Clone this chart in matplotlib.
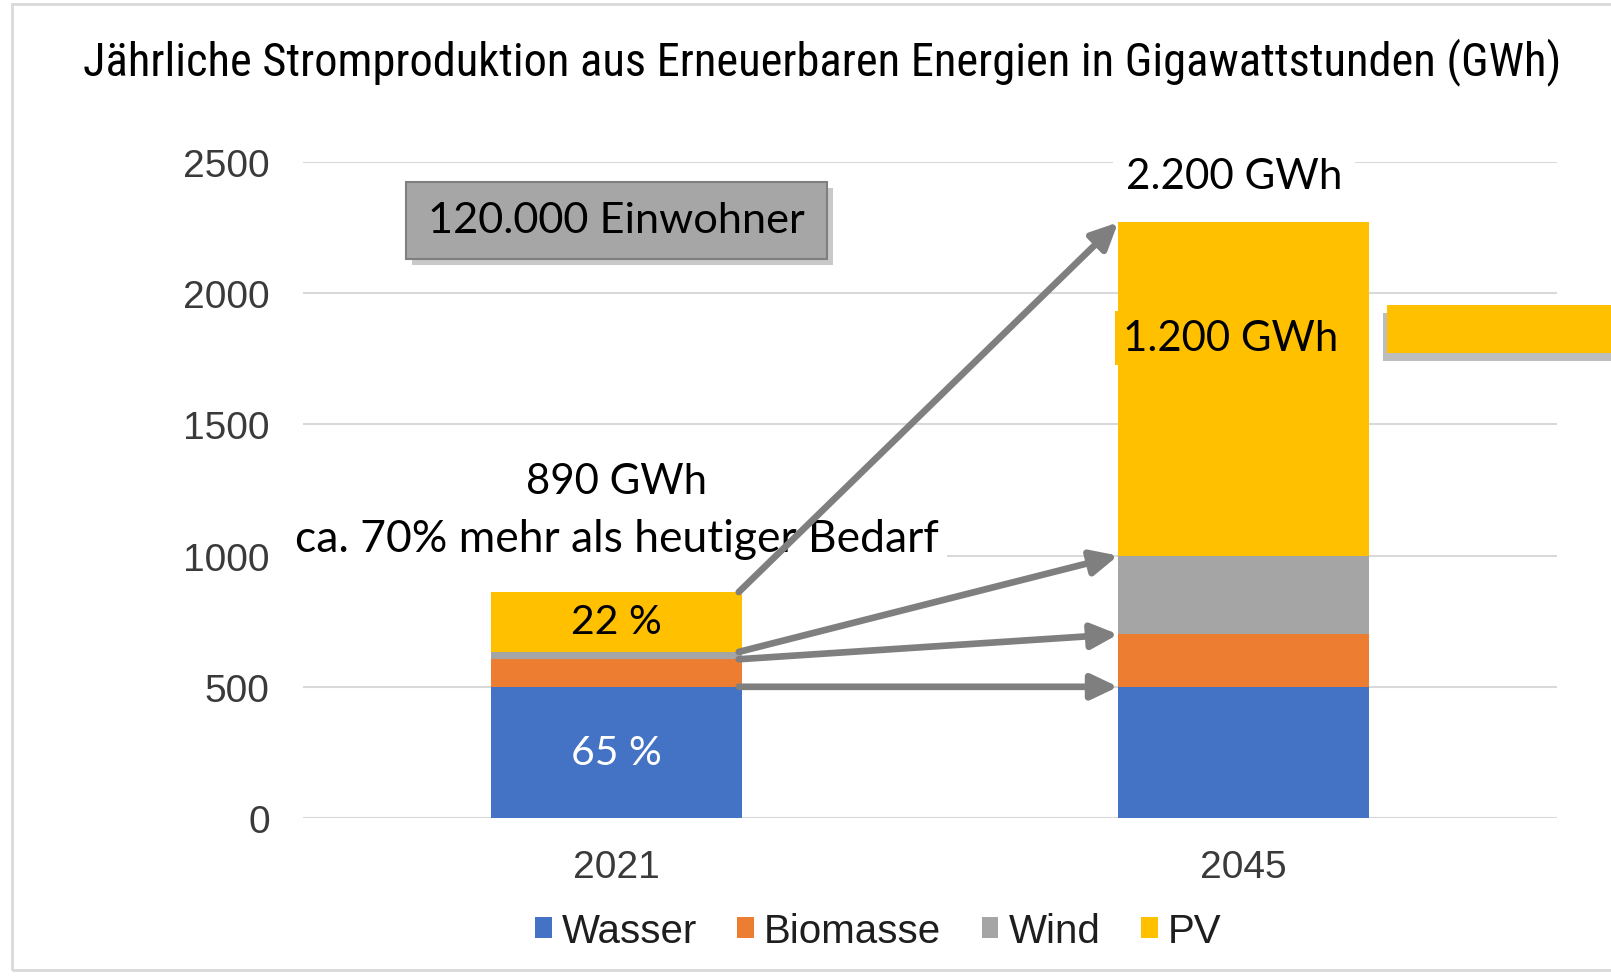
import matplotlib
matplotlib.use('Agg')
import matplotlib.pyplot as plt
from matplotlib.patches import Rectangle, Patch
from matplotlib import font_manager as fm

# ---------------- data ----------------
categories = ['2021', '2045']
series_names = ['Wasser', 'Biomasse', 'Wind', 'PV']
wasser = [500, 500]
biomasse = [105, 200]
wind = [28, 300]
pv = [228, 1270]
y_ticks = [0, 500, 1000, 1500, 2000, 2500]
colors = ['#4472C4', '#ED7D31', '#A5A5A5', '#FFC000']

title = 'Jährliche Stromproduktion aus Erneuerbaren Energien in Gigawattstunden (GWh)'
box_label = '120.000 Einwohner'
total_2021_label = '890 GWh'
note_2021 = 'ca. 70% mehr als heutiger Bedarf'
total_2045_label = '2.200 GWh'
pv_2045_label = '1.200 GWh'
share_pv_2021 = '22 %'
share_wasser_2021 = '65 %'

# ---------------- fonts ----------------
available = {f.name for f in fm.fontManager.ttflist}
def pick(*names):
    for n in names:
        if n in available:
            return n
    return 'DejaVu Sans'
narrow = pick('Liberation Sans Narrow', 'Roboto Condensed', 'Liberation Sans')
calib = pick('Lato', 'Open Sans', 'Noto Sans')
arial = pick('Liberation Sans', 'Arial', 'DejaVu Sans')

W, H = 1611, 978
fig = plt.figure(figsize=(W / 100, H / 100), dpi=100)
fig.patch.set_facecolor('white')

def fx(px):
    return px / W
def fy(py):
    return 1 - py / H

# outer frame
fig.add_artist(Rectangle((fx(12), fy(971)), fx(1640 - 12), 966 / H, transform=fig.transFigure,
                         fill=False, ec='#D9D9D9', lw=2, zorder=0))

ax = fig.add_axes([fx(303), fy(819), fx(1557 - 303), (819 - 163) / H])
ax.set_xlim(-0.5, 1.5)
ax.set_ylim(0, 2500)
for s in ax.spines.values():
    s.set_visible(False)
ax.set_yticks(y_ticks)
ax.set_yticklabels([str(v) for v in y_ticks], fontsize=28, family=arial, color='#3A3A3A')
ax.set_xticks(range(len(categories)))
ax.set_xticklabels(categories, fontsize=28, family=arial, color='#3A3A3A')
ax.tick_params(axis='y', length=0, pad=24)
ax.tick_params(axis='x', length=0, pad=22)
ax.yaxis.grid(True, color='#D9D9D9', lw=1.5, zorder=0)
ax.set_axisbelow(True)

xs = list(range(len(categories)))
bw = 0.4
series = [wasser, biomasse, wind, pv]
bottom = [0] * len(categories)
tops = []
for vals, name, col in zip(series, series_names, colors):
    ax.bar(xs, vals, bw, bottom=bottom, color=col, label=name, zorder=2)
    bottom = [b + v for b, v in zip(bottom, vals)]
    tops.append(list(bottom))

# segment labels 2021
t22 = ax.text(0, tops[2][0] + pv[0] / 2, share_pv_2021, ha='center', va='center',
              fontsize=30, family=calib, color='black', zorder=4)
t65 = ax.text(0, wasser[0] / 2, share_wasser_2021, ha='center', va='center',
              fontsize=30, family=calib, color='white', zorder=4)
t890 = ax.text(0, 1284, total_2021_label, ha='center', va='center', fontsize=30, family=calib,
               color='black', zorder=4, bbox=dict(boxstyle='square,pad=0.15', fc='white', ec='none'))
tnote = ax.text(0, 1067, note_2021, ha='center', va='center', fontsize=30, family=calib,
                color='black', zorder=4, bbox=dict(boxstyle='square,pad=0.2', fc='white', ec='none'))
t2200 = ax.text(0.985, 2447, total_2045_label, ha='center', va='center', fontsize=30, family=calib,
                color='black', zorder=4, bbox=dict(boxstyle='square,pad=0.3', fc='white', ec='none'))
t1200 = ax.text(0.98, 1829, pv_2045_label, ha='center', va='center', fontsize=30, family=calib,
                color='black', zorder=4, bbox=dict(boxstyle='square,pad=0.2', fc='#FFC000', ec='none'))

# arrows from 2021 stack tops to 2045 stack tops
arrow_pairs = [(tops[3][0], tops[3][1]), (tops[2][0], tops[2][1]),
               (tops[1][0], tops[1][1]), (tops[0][0], tops[0][1])]
for y0, y1 in arrow_pairs:
    ax.annotate('', xy=(1 - bw / 2, y1), xytext=(bw / 2 - 0.005, y0),
                arrowprops=dict(arrowstyle='-|>,head_length=0.8,head_width=0.38', color='#7F7F7F',
                                lw=4.8, shrinkA=0, shrinkB=0, mutation_scale=20), zorder=5)

# box "120.000 Einwohner" with shadow
fig.add_artist(Rectangle((fx(412), fy(266)), fx(421), 77 / H, transform=fig.transFigure,
                         fc='#C9C9C9', ec='none', zorder=1))
fig.add_artist(Rectangle((fx(406), fy(260)), fx(421), 77 / H, transform=fig.transFigure,
                         fc='#A6A6A6', ec='#7F7F7F', lw=1.5, zorder=2))
tbox = fig.text(fx(616), fy(221), box_label, ha='center', va='center', fontsize=30,
                family=calib, color='black', zorder=3)

# yellow bar at the right edge with shadow
fig.add_artist(Rectangle((fx(1383), fy(362)), fx(240), 48 / H, transform=fig.transFigure,
                         fc='#BDBDBD', ec='none', zorder=1))
fig.add_artist(Rectangle((fx(1387), fy(354)), fx(240), 48 / H, transform=fig.transFigure,
                         fc='#FFC000', ec='none', zorder=2))

ttl = fig.text(fx(822), fy(62), title, ha='center', va='center', fontsize=34,
               family=narrow, color='black')

handles = [Patch(facecolor=c, edgecolor='none', label=n) for n, c in zip(series_names, colors)]
fig.legend(handles=handles, loc='center', bbox_to_anchor=(fx(878), fy(932)), ncol=4, frameon=False,
           prop={'family': arial, 'size': 29}, handlelength=0.42, handleheight=0.42,
           handletextpad=0.25, columnspacing=1.0, labelcolor='#1E1E1E')

# fit text widths to reference
fig.canvas.draw()
r = fig.canvas.get_renderer()
def fit(t, target):
    w = t.get_window_extent(r).width
    t.set_fontsize(t.get_fontsize() * target / w)
fit(ttl, 1484)
fit(tbox, 377)
fit(t890, 181)
fit(tnote, 643)
fit(t2200, 216)
fit(t1200, 215)
fit(t22, 91)
fit(t65, 91)

fig.savefig('out.png', dpi=100, facecolor='white')
